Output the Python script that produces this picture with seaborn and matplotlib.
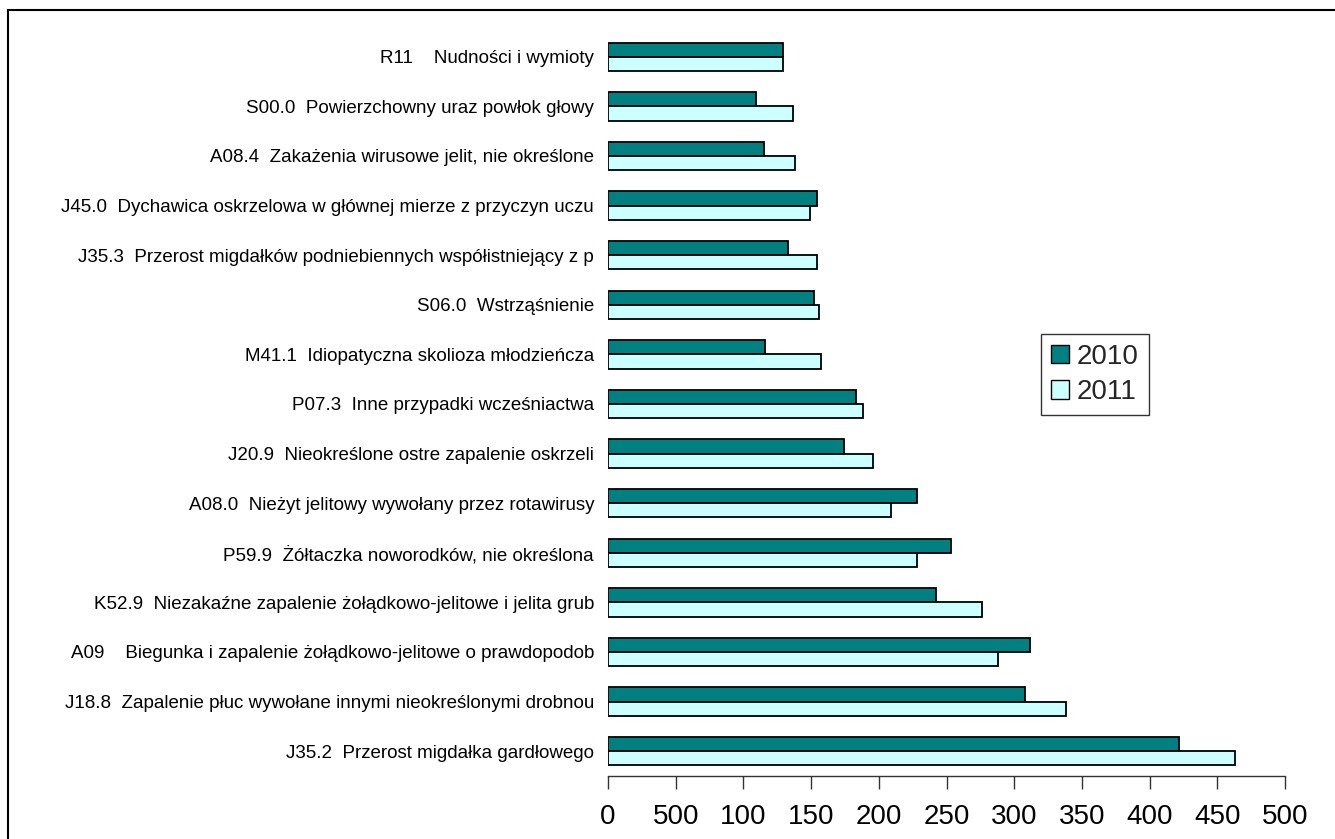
import matplotlib
matplotlib.use("Agg")
import matplotlib.pyplot as plt
import matplotlib.patches as mpatches
import seaborn as sns
import pandas as pd

categories = [
    "R11    Nudności i wymioty",
    "S00.0  Powierzchowny uraz powłok głowy",
    "A08.4  Zakażenia wirusowe jelit, nie określone",
    "J45.0  Dychawica oskrzelowa w głównej mierze z przyczyn uczu",
    "J35.3  Przerost migdałków podniebiennych współistniejący z p",
    "S06.0  Wstrząśnienie",
    "M41.1  Idiopatyczna skolioza młodzieńcza",
    "P07.3  Inne przypadki wcześniactwa",
    "J20.9  Nieokreślone ostre zapalenie oskrzeli",
    "A08.0  Nieżyt jelitowy wywołany przez rotawirusy",
    "P59.9  Żółtaczka noworodków, nie określona",
    "K52.9  Niezakaźne zapalenie żołądkowo-jelitowe i jelita grub",
    "A09    Biegunka i zapalenie żołądkowo-jelitowe o prawdopodob",
    "J18.8  Zapalenie płuc wywołane innymi nieokreślonymi drobnou",
    "J35.2  Przerost migdałka gardłowego",
]
values_2010 = [129, 109, 115, 154, 133, 152, 116, 183, 174, 228, 253, 242, 312, 308, 422]
values_2011 = [129, 137, 138, 149, 154, 156, 157, 188, 196, 209, 228, 276, 288, 338, 463]
series_names = ["2010", "2011"]
tick_values = [0, 50, 100, 150, 200, 250, 300, 350, 400, 450, 500]
tick_labels = ["0", "500", "100", "150", "200", "250", "300", "350", "400", "450", "500"]
colors = ["#008080", "#CCFFFF"]

df = pd.DataFrame({
    "category": categories * 2,
    "value": values_2010 + values_2011,
    "year": [series_names[0]] * len(categories) + [series_names[1]] * len(categories),
})

sns.set_theme(style="white")
plt.rcParams["font.family"] = ["Liberation Sans", "DejaVu Sans"]

W, H = 1335, 839
fig = plt.figure(figsize=(W / 100, H / 100), dpi=100)
ax = fig.add_axes([608 / W, 1 - 776 / H, 677 / W, 744 / H])

sns.barplot(data=df, x="value", y="category", hue="year", order=categories,
            hue_order=series_names, palette=colors, orient="h", width=0.57,
            edgecolor="black", linewidth=1.3, saturation=1, legend=False, ax=ax)

ax.set_xlim(0, 500)
ax.set_ylim(len(categories) - 0.5, -0.5)
ax.set_xticks(tick_values)
ax.set_xticklabels(tick_labels, fontsize=20)
ax.set_xlabel("")
ax.set_ylabel("")
ax.tick_params(axis="y", left=False, length=0, pad=10, labelsize=13.5, colors="black")
ax.tick_params(axis="x", bottom=True, direction="out", length=9, width=1,
               pad=11, labelcolor="black", color="#333333")
for s in ["left", "right", "top"]:
    ax.spines[s].set_visible(False)
ax.spines["bottom"].set_color("#333333")
ax.spines["bottom"].set_linewidth(1)
ax.grid(False)

handles = [mpatches.Patch(facecolor=c, edgecolor="black", linewidth=1) for c in colors]
leg = fig.legend(handles, series_names, loc="upper left",
                 bbox_to_anchor=(1041 / W, 1 - 334 / H), bbox_transform=fig.transFigure,
                 fontsize=20, frameon=True, fancybox=False, shadow=False,
                 handlelength=0.65, handleheight=0.65, handletextpad=0.3,
                 borderpad=0.35, labelspacing=0.35, borderaxespad=0)
leg.get_frame().set_edgecolor("black")
leg.get_frame().set_linewidth(1)

border = mpatches.Rectangle((8 / W, -0.05), 1.1, 1.05 - 10 / H, transform=fig.transFigure,
                            fill=False, edgecolor="black", linewidth=1.5, clip_on=False)
fig.add_artist(border)

fig.savefig("out.png", dpi=100)
